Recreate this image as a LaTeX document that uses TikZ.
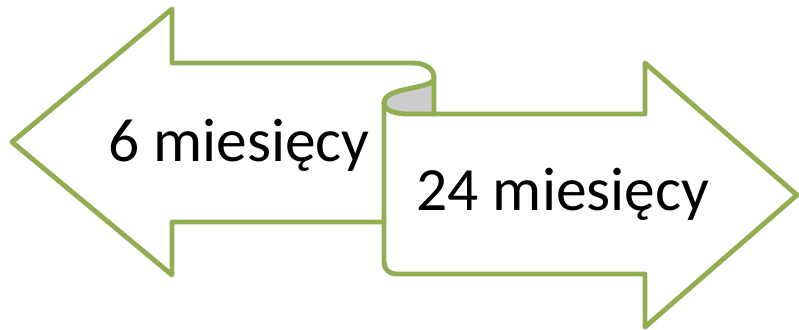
\documentclass[tikz,border=0pt]{standalone}
\usepackage{fontspec}
\setmainfont{Carlito}
\usepackage{xcolor}
\definecolor{ribbongreen}{RGB}{146,174,82}
\tikzset{
  every picture/.style={line join=round, line cap=round},
  ribbon/.style={draw=ribbongreen, line width=2.8pt},
  backside/.style={fill=black!20},
  label/.style={font=\fontsize{35}{40}\selectfont, anchor=base, inner sep=0pt},
}

\begin{document}
\begin{tikzpicture}[x=0.02cm,y=-0.02cm]
\useasboundingbox(0,0) rectangle (799,329);
% grey back side of the curl
\fill[backside](434,78) .. controls (434,90) and (384,86) .. (384,103)
 .. controls (384,110) and (394,114) .. (409,114) -- (434,114) -- cycle;
% right arrow
\draw[ribbon](434,114)--(645,114)--(645,63)--(797,195)--(645,327)--(645,274)
 --(396,274) .. controls (389,274) and (384,269) .. (384,262)--(384,103);
\draw[ribbon](384,103) .. controls (384,110) and (394,114) .. (409,114)--(434,114);
% left arrow with curl
\draw[ribbon](384,222)--(172,222)--(172,275)--(12,142)--(172,9)--(172,63)
 --(412,63) .. controls (426,63) and (434,69) .. (434,78)--(434,114);
\draw[ribbon](434,78) .. controls (434,90) and (384,86) .. (384,103);
\node[label](six) at (239,161){6 miesięcy};
\node[label](twentyfour) at (563,210){24 miesięcy};
\end{tikzpicture}
\end{document}
